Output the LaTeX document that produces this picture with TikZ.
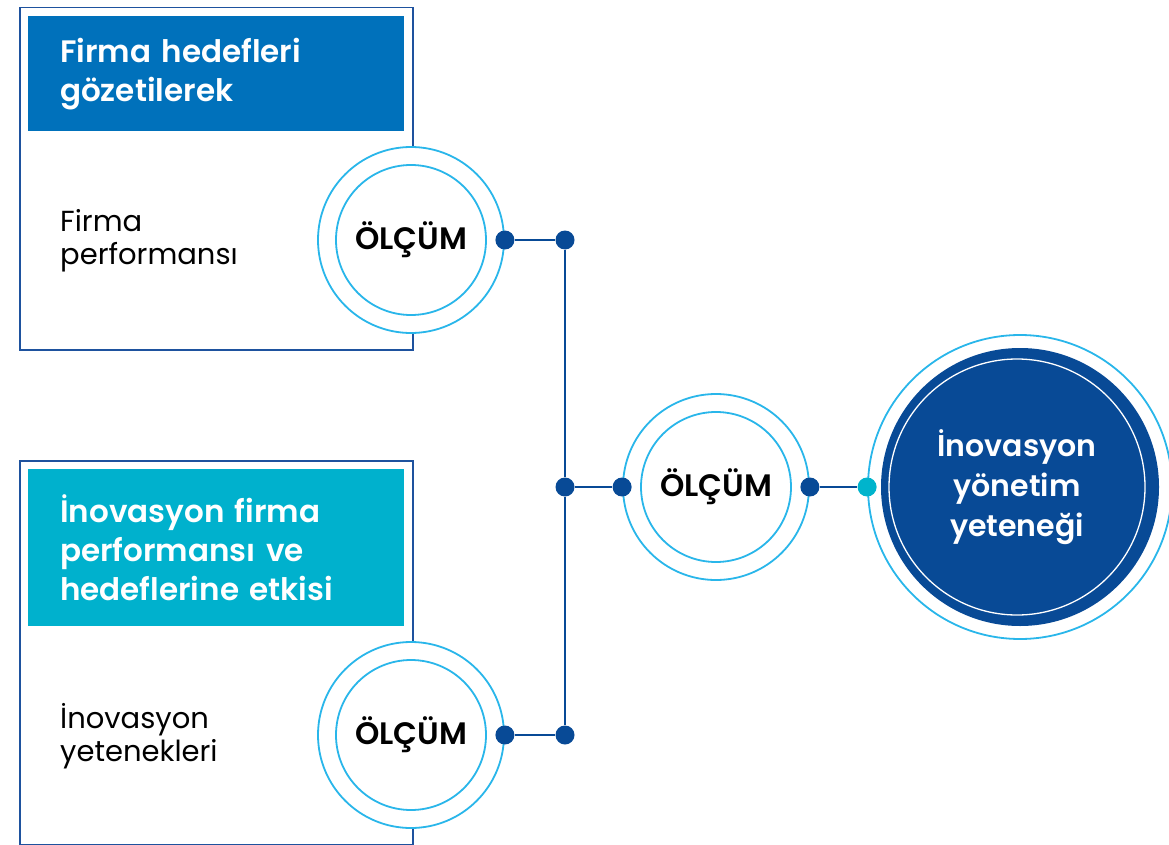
\documentclass[tikz,border=0pt]{standalone}
\usepackage{fontspec}
\setmainfont{Poppins}[BoldFont={Poppins SemiBold}]
\definecolor{framenavy}{RGB}{30, 82, 158}
\definecolor{headblue}{RGB}{0, 113, 187}
\definecolor{headcyan}{RGB}{0, 177, 205}
\definecolor{ringblue}{RGB}{41, 182, 234}
\definecolor{dotnavy}{RGB}{8, 74, 150}
\definecolor{dotcyan}{RGB}{0, 180, 204}
\usetikzlibrary{positioning, calc}

\begin{document}
\begin{tikzpicture}[x=1pt, y=-1pt,
  frame/.style={draw=framenavy, line width=1.5pt, minimum width=393pt, inner sep=0pt, anchor=north west},
  header/.style={text=white, font=\bfseries\fontsize{31}{39}\selectfont, text width=312pt, inner xsep=32pt, align=left, anchor=north west},
  bodytext/.style={font=\fontsize{29}{33}\selectfont, align=left, anchor=west, inner sep=0pt},
  ring/.style={circle, draw=ringblue, line width=1.8pt, fill=white, minimum size=186pt, inner sep=0pt},
  inring/.style={circle, draw=ringblue, line width=1.8pt, minimum size=150pt, inner sep=0pt, font=\bfseries\fontsize{31}{33}\selectfont},
  dot/.style={circle, fill=dotnavy, minimum size=19pt, inner sep=0pt},
  link/.style={draw=dotnavy, line width=1.6pt}]
  \useasboundingbox (0,0) rectangle (1169,845);

  % upper block
  \node[frame, minimum height=342pt] (frame1) at (19,7) {};
  \node[header, fill=headblue, minimum height=115pt] (head1) at (28,16) {Firma hedefleri\\gözetilerek};
  \node[bodytext] (body1) at (60,241) {Firma\\performansı};

  % lower block
  \node[frame, minimum height=384pt] (frame2) at (19,460) {};
  \node[header, fill=headcyan, minimum height=157pt] (head2) at (28,469) {İnovasyon firma\\performansı ve\\hedeflerine etkisi};
  \node[bodytext] (body2) at (60,736) {İnovasyon\\yetenekleri};

  % measurement rings
  \node[ring] (meas1) at (411,240) {};
  \node[inring] at (meas1) {ÖLÇÜM};
  \node[ring] (meas2) at (716,487) {};
  \node[inring] at (meas2) {ÖLÇÜM};
  \node[ring] (meas3) at (411,735) {};
  \node[inring] at (meas3) {ÖLÇÜM};

  % goal circle
  \node[circle, draw=ringblue, line width=1.8pt, minimum size=304pt, inner sep=0pt] (goal) at (1020,487) {};
  \node[circle, fill=dotnavy, minimum size=278pt, inner sep=0pt] (goalfill) at (goal) {};
  \node[circle, draw=white, line width=1.3pt, minimum size=256pt, inner sep=0pt, text=white, align=center,
        font=\bfseries\fontsize{30}{40}\selectfont] (goaltext) at (1017,487) {İnovasyon\\yönetim\\yeteneği};

  % dots
  \node[dot] (d1a) at (meas1.east) {};
  \node[dot] (d1b) at (565,240) {};
  \node[dot] (d2a) at (565,487) {};
  \node[dot] (d2b) at (meas2.west) {};
  \node[dot] (d2c) at (meas2.east) {};
  \node[dot, fill=dotcyan] (d2d) at (goal.west) {};
  \node[dot] (d3a) at (meas3.east) {};
  \node[dot] (d3b) at (565,735) {};

  % connectors
  \draw[link] (d1a) -- (d1b);
  \draw[link] (d1b) -- (d2a);
  \draw[link] (d2a) -- (d3b);
  \draw[link] (d2a) -- (d2b);
  \draw[link] (d2c) -- (d2d);
  \draw[link] (d3a) -- (d3b);
\end{tikzpicture}
\end{document}
